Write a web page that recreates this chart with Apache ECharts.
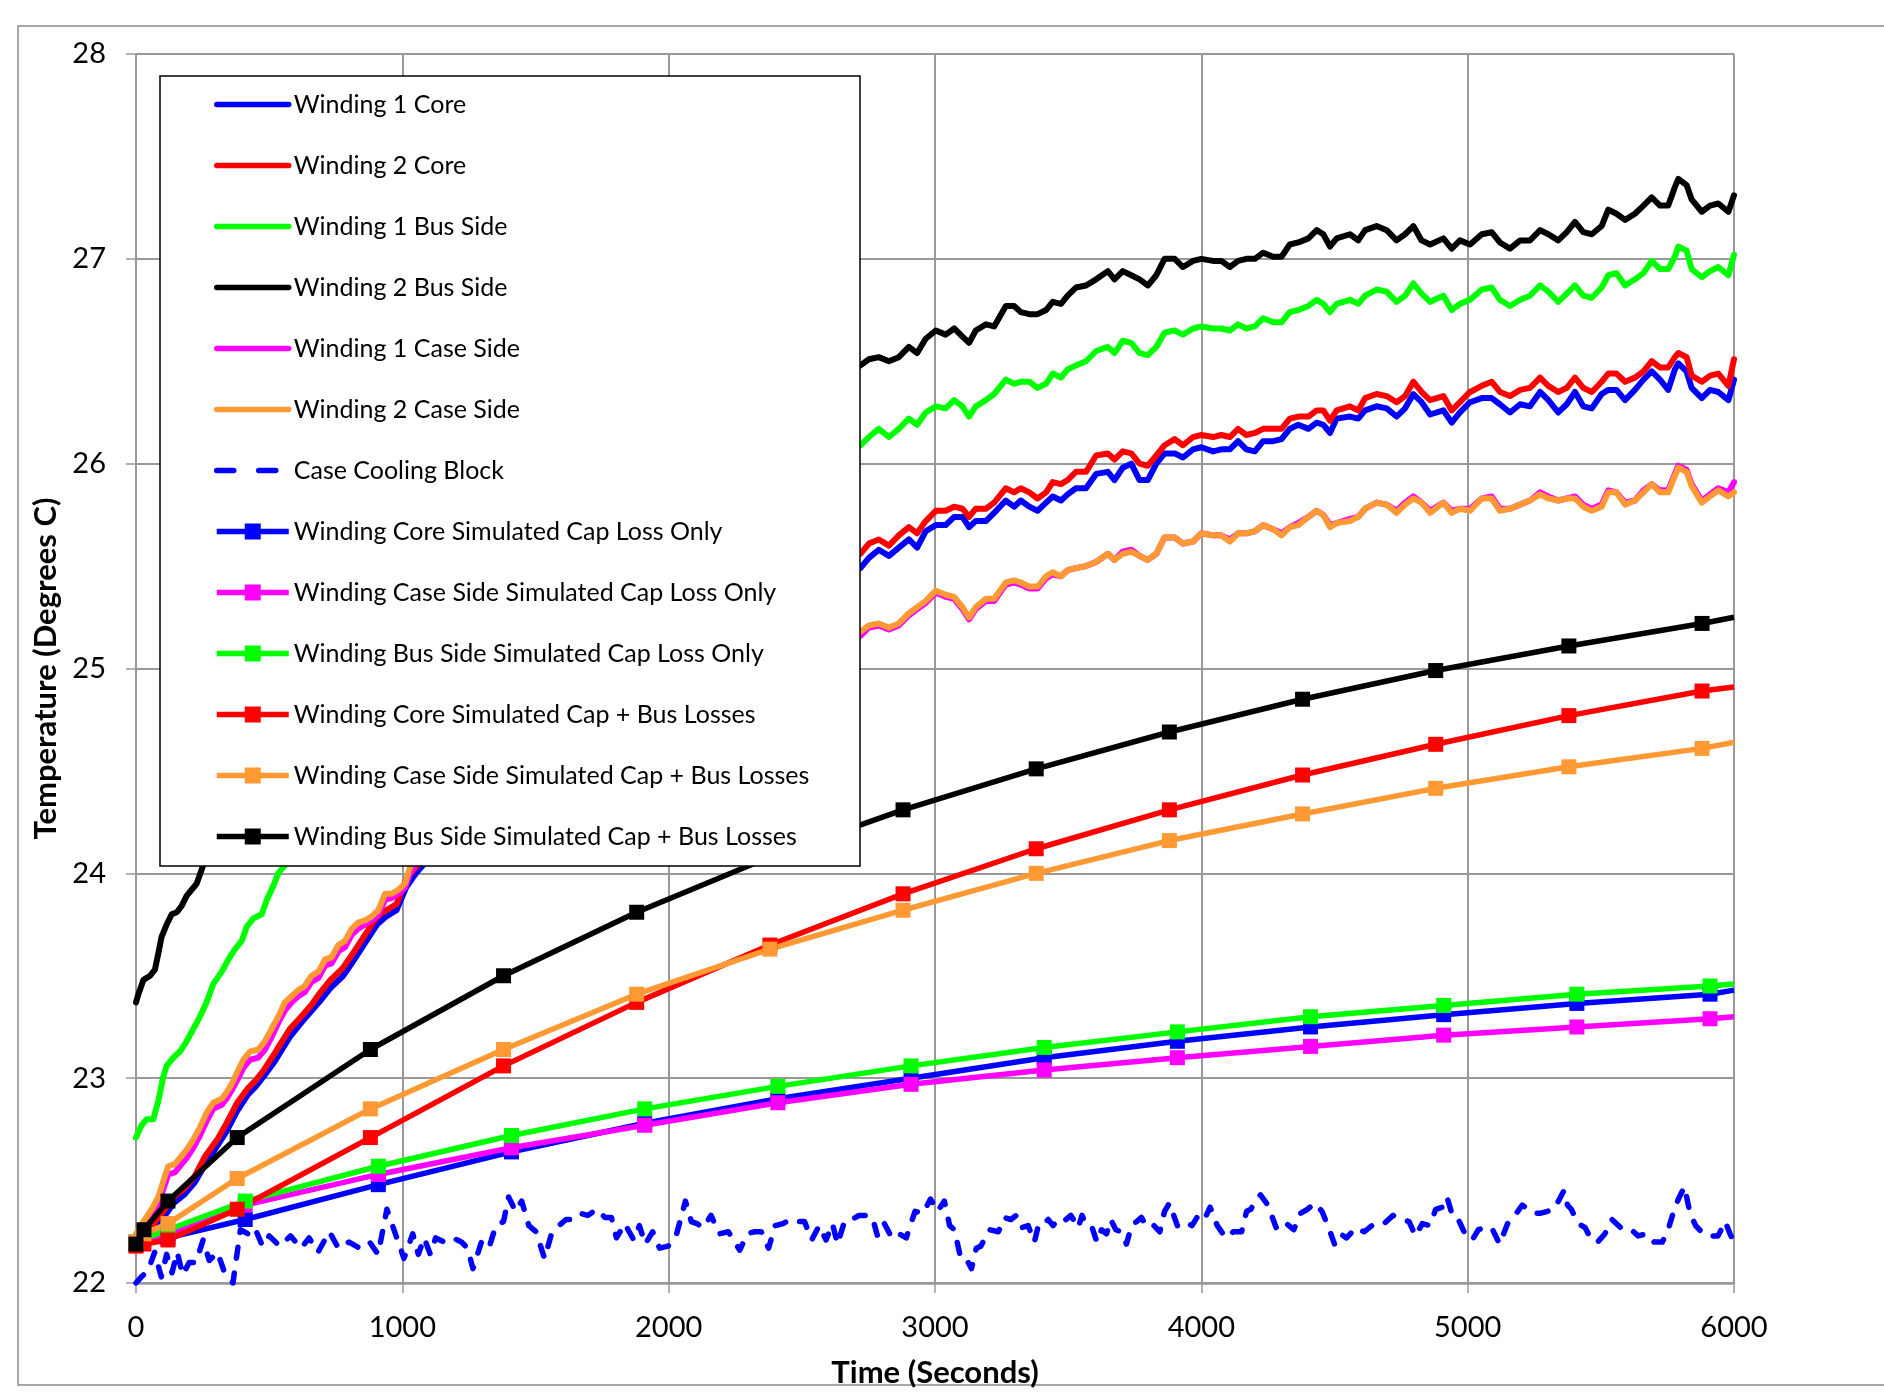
<!DOCTYPE html>
<html><head><meta charset="utf-8">
<script src="https://cdn.jsdelivr.net/npm/echarts@6/dist/echarts.min.js"></script>
<style>html,body{margin:0;padding:0;background:#fff}#c{width:1884px;height:1395px}</style>
</head><body><div id="c"></div><script>
// ---------- Tick labels ----------
const xTicks = [0, 1000, 2000, 3000, 4000, 5000, 6000];
const yTicks = [22, 23, 24, 25, 26, 27, 28];

// ---------- Series names ----------
const names = ['Winding 1 Core','Winding 2 Core','Winding 1 Bus Side','Winding 2 Bus Side','Winding 1 Case Side','Winding 2 Case Side','Case Cooling Block','Winding Core Simulated Cap Loss Only','Winding Case Side Simulated Cap Loss Only','Winding Bus Side Simulated Cap Loss Only','Winding Core Simulated Cap + Bus Losses','Winding Case Side Simulated Cap + Bus Losses','Winding Bus Side Simulated Cap + Bus Losses'];

// ---------- Measured series: early part (times and values per series) ----------
const w2BusT_L = [0,9,28,53,71,84,96,115,134,153,171,190,209,228,247,259,400,600,800,1000,1300,1600,1900,2200,2500];
const w2Bus_L  = [23.37,23.41,23.48,23.50,23.53,23.61,23.69,23.75,23.80,23.81,23.84,23.89,23.92,23.95,24.02,24.07,24.33,24.66,24.95,25.2,25.52,25.8,26.03,26.22,26.38];
const w1BusT_L = [0,21,40,65,84,103,115,140,165,190,215,240,265,290,322,347,372,397,416,441,472,491,516,534,553,700,900,1100,1400,1700,2000,2300,2550];
const w1Bus_L  = [22.71,22.77,22.80,22.80,22.89,23.01,23.06,23.10,23.13,23.18,23.24,23.30,23.37,23.46,23.52,23.58,23.63,23.67,23.74,23.78,23.80,23.87,23.94,24.00,24.03,24.25,24.5,24.75,25.05,25.35,25.62,25.88,26.02];
const caseT_L  = [0,28,59,84,103,121,146,171,190,215,240,265,290,322,340,359,384,403,428,459,484,509,534,559,584,609,634,659,685,710,734,760,785,810,835,860,885,910,935,960,985,1010,1029,1048,1200,1400,1700,2000,2300,2550];
const w2Case_L = [22.24,22.30,22.36,22.42,22.50,22.57,22.58,22.62,22.65,22.70,22.76,22.83,22.88,22.90,22.93,22.97,23.04,23.09,23.13,23.14,23.18,23.24,23.30,23.37,23.40,23.43,23.45,23.50,23.52,23.58,23.59,23.65,23.67,23.73,23.76,23.77,23.79,23.82,23.90,23.90,23.92,23.95,24.03,24.07,24.25,24.45,24.65,24.85,25.0,25.12];
const w1Case_L = [22.22,22.28,22.33,22.38,22.46,22.53,22.54,22.58,22.61,22.66,22.72,22.79,22.85,22.87,22.90,22.94,23.00,23.05,23.09,23.10,23.14,23.20,23.27,23.33,23.37,23.40,23.42,23.47,23.49,23.55,23.56,23.62,23.64,23.70,23.73,23.75,23.77,23.80,23.87,23.88,23.90,23.93,24.00,24.04,24.22,24.42,24.63,24.83,24.99,25.11];
const coreT_L  = [0,30,60,90,120,141,180,220,260,305,340,380,420,450,480,520,577,620,660,687,730,778,820,860,905,940,978,1014,1051,1200,1400,1700,2000,2300,2550];
const w2Core_L = [22.21,22.22,22.28,22.33,22.38,22.42,22.46,22.52,22.62,22.70,22.78,22.88,22.95,22.99,23.04,23.12,23.24,23.30,23.36,23.41,23.48,23.54,23.62,23.70,23.79,23.82,23.85,23.97,24.03,24.25,24.5,24.8,25.05,25.3,25.48];
const w1Core_L = [22.19,22.20,22.25,22.30,22.35,22.39,22.43,22.49,22.58,22.67,22.74,22.84,22.92,22.96,23.01,23.08,23.20,23.27,23.33,23.37,23.44,23.50,23.58,23.66,23.75,23.79,23.82,23.93,24.00,24.22,24.47,24.77,25.0,25.25,25.42];

// ---------- Measured series: later part (shared times) ----------
const TR = [2720,2752,2789,2827,2864,2902,2933,2965,3003,3040,3072,3103,3128,3153,3191,3222,3266,3297,3322,3354,3385,3417,3442,3473,3498,3529,3567,3605,3649,3674,3705,3737,3768,3799,3831,3862,3900,3931,3969,4000,4044,4075,4107,4138,4169,4201,4232,4270,4301,4332,4364,
            4402,4433,4458,4483,4508,4558,4589,4615,4658,4696,4733,4765,4796,4827,4859,4909,4940,4971,5009,5053,5090,5121,5159,5197,5234,5272,5303,5340,5372,5403,5434,5466,5503,5528,5559,5591,5628,5660,5691,5722,5753,5778,5791,5822,5841,5879,5910,5941,5979,6000];
const w2Bus_R = [26.48,26.51,26.52,26.50,26.52,26.57,26.54,26.61,26.65,26.63,26.66,26.62,26.59,26.65,26.68,26.67,26.77,26.77,26.74,26.73,26.73,26.75,26.79,26.78,26.82,26.86,26.87,26.90,26.94,26.90,26.94,26.92,26.90,26.87,26.92,27.00,27.00,26.96,26.99,27.00,26.99,26.99,26.96,26.99,27.00,27.00,27.03,27.01,27.01,27.07,27.08,
            27.10,27.14,27.12,27.06,27.10,27.12,27.09,27.14,27.16,27.14,27.09,27.12,27.16,27.09,27.07,27.10,27.05,27.09,27.07,27.12,27.13,27.08,27.05,27.09,27.09,27.14,27.12,27.09,27.13,27.18,27.13,27.12,27.16,27.24,27.22,27.19,27.22,27.26,27.30,27.26,27.26,27.35,27.39,27.36,27.29,27.23,27.26,27.27,27.23,27.31];
const w1Bus_R = [26.09,26.13,26.17,26.13,26.17,26.22,26.19,26.25,26.28,26.27,26.31,26.28,26.23,26.28,26.31,26.34,26.41,26.39,26.40,26.40,26.37,26.39,26.44,26.42,26.46,26.48,26.50,26.55,26.57,26.54,26.60,26.59,26.54,26.53,26.57,26.64,26.65,26.63,26.66,26.67,26.66,26.66,26.65,26.68,26.66,26.67,26.71,26.69,26.69,26.74,26.75,
            26.77,26.80,26.78,26.74,26.78,26.80,26.78,26.82,26.85,26.84,26.79,26.82,26.88,26.83,26.79,26.82,26.75,26.78,26.80,26.85,26.86,26.80,26.77,26.80,26.82,26.87,26.84,26.79,26.83,26.87,26.82,26.81,26.86,26.92,26.93,26.87,26.90,26.93,26.99,26.95,26.95,27.01,27.06,27.04,26.95,26.91,26.94,26.96,26.92,27.02];
const w2Core_R = [25.56,25.61,25.63,25.60,25.65,25.69,25.66,25.72,25.77,25.77,25.79,25.78,25.74,25.78,25.78,25.81,25.88,25.86,25.88,25.86,25.83,25.86,25.91,25.90,25.92,25.96,25.96,26.04,26.05,26.02,26.06,26.05,26.00,25.99,26.04,26.09,26.12,26.09,26.13,26.14,26.13,26.14,26.13,26.17,26.14,26.15,26.17,26.17,26.17,26.22,26.23,
            26.23,26.26,26.26,26.21,26.26,26.28,26.26,26.32,26.34,26.33,26.30,26.33,26.40,26.35,26.31,26.33,26.26,26.30,26.35,26.38,26.40,26.35,26.33,26.36,26.37,26.42,26.38,26.35,26.37,26.42,26.37,26.35,26.40,26.44,26.44,26.40,26.42,26.45,26.50,26.47,26.47,26.52,26.54,26.52,26.43,26.40,26.43,26.44,26.38,26.51];
const w1Core_R = [25.49,25.54,25.58,25.55,25.59,25.63,25.59,25.67,25.70,25.70,25.74,25.74,25.69,25.72,25.72,25.76,25.82,25.79,25.82,25.79,25.77,25.81,25.84,25.82,25.85,25.88,25.88,25.95,25.96,25.92,25.98,26.00,25.92,25.92,26.00,26.05,26.05,26.03,26.07,26.08,26.06,26.07,26.07,26.11,26.07,26.06,26.11,26.11,26.12,26.17,26.19,
            26.17,26.20,26.19,26.15,26.22,26.23,26.22,26.26,26.28,26.27,26.23,26.27,26.34,26.30,26.24,26.26,26.20,26.25,26.30,26.32,26.32,26.29,26.25,26.29,26.28,26.35,26.31,26.25,26.29,26.35,26.28,26.27,26.34,26.36,26.36,26.31,26.36,26.41,26.45,26.41,26.36,26.46,26.49,26.45,26.37,26.32,26.36,26.35,26.31,26.41];
const w2Case_R = [25.18,25.21,25.22,25.20,25.22,25.27,25.30,25.33,25.38,25.36,25.35,25.30,25.25,25.30,25.34,25.34,25.42,25.43,25.42,25.40,25.40,25.45,25.47,25.45,25.48,25.49,25.50,25.52,25.56,25.53,25.56,25.57,25.55,25.53,25.56,25.64,25.64,25.61,25.62,25.66,25.65,25.65,25.62,25.66,25.66,25.67,25.70,25.68,25.65,25.69,25.70,
            25.74,25.77,25.75,25.69,25.71,25.72,25.74,25.78,25.81,25.80,25.76,25.80,25.83,25.81,25.76,25.81,25.76,25.78,25.77,25.83,25.83,25.77,25.78,25.80,25.82,25.85,25.83,25.82,25.83,25.83,25.79,25.77,25.79,25.86,25.86,25.80,25.82,25.86,25.90,25.86,25.86,25.94,25.98,25.96,25.89,25.81,25.84,25.87,25.84,25.86];
const w1Case_R = [25.16,25.20,25.21,25.19,25.21,25.26,25.29,25.32,25.37,25.35,25.34,25.29,25.24,25.29,25.33,25.33,25.41,25.42,25.41,25.39,25.39,25.44,25.46,25.45,25.48,25.49,25.50,25.52,25.56,25.53,25.57,25.58,25.55,25.53,25.56,25.64,25.64,25.61,25.62,25.66,25.65,25.65,25.63,25.66,25.66,25.67,25.70,25.68,25.66,25.69,25.71,
            25.74,25.77,25.75,25.70,25.71,25.73,25.74,25.78,25.81,25.80,25.77,25.81,25.84,25.81,25.77,25.81,25.77,25.78,25.78,25.83,25.84,25.78,25.78,25.80,25.82,25.86,25.84,25.82,25.83,25.84,25.80,25.78,25.80,25.87,25.86,25.81,25.82,25.87,25.90,25.87,25.87,25.95,25.99,25.97,25.90,25.82,25.85,25.88,25.86,25.91];

// ---------- Case cooling block ----------
const coolT = [0,20,45,70,95,115,135,155,175,200,225,252,275,306,330,364,392,420,446,475,500,540,580,620,650,683,726,760,800,840,877,909,942,974,1006,1039,1060,1082,1105,1125,1157,1190,1222,1245,1265,1297,1325,1351,1380,1399,1425,1448,1475,1502,1534,1560,1588,1615,1642,1670,1696,1730,1761,1785,1804,1835,1869,1890,1912,1940,1966,1998,2030,2063,2085,2106,2130,2159,2190,2224,2267,2295,2321,2348,2375,2400,2429,2456,2483,2510,2537,2565,2591,2615,2634,2660,2688,2715,2741,2765,2784,2810,2838,2865,2892,2925,2955,2983,3010,3035,3055,3073,3095,3113,3137,3155,3172,3205,3238,3260,3285,3305,3325,3350,3373,3390,3408,3425,3443,3462,3483,3510,3538,3552,3568,3590,3608,3625,3644,3660,3679,3700,3719,3738,3757,3775,3792,3815,3844,3862,3880,3910,3939,3965,3993,4015,4033,4060,4092,4120,4151,4170,4186,4205,4222,4250,4281,4310,4347,4372,4399,4425,4453,4478,4500,4522,4545,4580,4611,4650,4686,4720,4752,4780,4804,4830,4858,4880,4905,4922,4945,4965,4990,5017,5040,5064,5090,5120,5150,5177,5205,5229,5250,5271,5300,5323,5345,5361,5375,5389,5415,5441,5465,5488,5515,5542,5575,5606,5640,5672,5700,5731,5755,5778,5795,5814,5835,5856,5885,5915,5940,5967,5985,6000];
const coolV = [22.0,22.03,22.06,22.15,22.03,22.14,22.05,22.15,22.04,22.1,22.1,22.21,22.11,22.15,22.06,22.0,22.26,22.24,22.27,22.18,22.23,22.18,22.23,22.17,22.22,22.15,22.25,22.17,22.2,22.17,22.2,22.14,22.36,22.24,22.12,22.24,22.14,22.22,22.14,22.22,22.2,22.22,22.2,22.17,22.07,22.2,22.17,22.28,22.3,22.42,22.35,22.4,22.28,22.25,22.12,22.24,22.28,22.31,22.31,22.34,22.33,22.36,22.32,22.32,22.22,22.29,22.21,22.28,22.19,22.25,22.17,22.18,22.24,22.4,22.3,22.29,22.27,22.33,22.24,22.25,22.16,22.24,22.25,22.25,22.17,22.28,22.29,22.31,22.3,22.3,22.21,22.28,22.21,22.29,22.19,22.3,22.31,22.33,22.33,22.32,22.23,22.29,22.22,22.24,22.22,22.35,22.34,22.41,22.35,22.4,22.28,22.26,22.13,22.13,22.07,22.17,22.18,22.26,22.25,22.32,22.31,22.33,22.27,22.28,22.2,22.29,22.29,22.31,22.28,22.31,22.3,22.33,22.27,22.33,22.28,22.27,22.2,22.26,22.24,22.31,22.26,22.25,22.19,22.28,22.3,22.32,22.28,22.29,22.25,22.35,22.39,22.28,22.3,22.28,22.34,22.32,22.37,22.28,22.22,22.25,22.25,22.35,22.36,22.41,22.43,22.38,22.27,22.3,22.26,22.34,22.36,22.39,22.35,22.27,22.19,22.24,22.22,22.27,22.25,22.29,22.29,22.33,22.31,22.3,22.23,22.29,22.28,22.36,22.37,22.42,22.32,22.31,22.24,22.21,22.26,22.27,22.27,22.19,22.29,22.33,22.38,22.36,22.34,22.34,22.35,22.36,22.41,22.45,22.38,22.36,22.29,22.27,22.21,22.2,22.24,22.31,22.27,22.27,22.23,22.24,22.2,22.2,22.27,22.37,22.42,22.47,22.34,22.28,22.24,22.23,22.23,22.3,22.24,22.2];

// ---------- Simulated series ----------
const simBusT  = [0,30,120,380,880,1380,1880,2380,2880,3380,3880,4380,4880,5380,5880,6000];
const simBusLosses_Bus  = [22.19,22.26,22.40,22.71,23.14,23.50,23.81,24.08,24.31,24.51,24.69,24.85,24.99,25.11,25.22,25.25];
const simBusLosses_Core = [22.18,22.19,22.21,22.36,22.71,23.06,23.37,23.65,23.90,24.12,24.31,24.48,24.63,24.77,24.89,24.91];
const simBusLosses_Case = [22.20,22.24,22.29,22.51,22.85,23.14,23.41,23.63,23.82,24.00,24.16,24.29,24.415,24.52,24.61,24.64];
const simCapT  = [0,120,410,910,1410,1910,2410,2910,3410,3910,4410,4910,5410,5910,6000];
const simCapOnly_Core = [22.19,22.22,22.31,22.48,22.64,22.78,22.90,23.00,23.10,23.18,23.25,23.31,23.365,23.41,23.43];
const simCapOnly_Case = [22.20,22.24,22.38,22.53,22.66,22.77,22.88,22.97,23.04,23.10,23.155,23.21,23.25,23.29,23.30];
const simCapOnly_Bus  = [22.20,22.26,22.40,22.57,22.72,22.85,22.96,23.06,23.15,23.226,23.30,23.355,23.41,23.45,23.46];

// ---------- Build ----------
const pair = (ts, vs) => ts.map((t, i) => [t, vs[i]]);
const FONT = 'Lato';
const LW = 6;
function measured(name, color, tl, vl, vr) {
  return { name, type: 'line', data: pair(tl, vl).concat(pair(TR, vr)), symbol: 'none', showSymbol: false,
    lineStyle: { color: color, width: LW, cap: 'round', join: 'round' }, itemStyle: { color: color }, emphasis: { disabled: true } };
}
function simulated(name, color, ts, vs) {
  const d = pair(ts, vs).map((p, i) => i === ts.length - 1 ? { value: p, symbol: 'none' } : p);
  return { name, type: 'line', data: d, symbol: 'rect', symbolSize: 15, showSymbol: true,
    lineStyle: { color: color, width: LW - 0.5, join: 'round' }, itemStyle: { color: color }, emphasis: { disabled: true } };
}
const series = [
  measured(names[0], '#0000FF', coreT_L, w1Core_L, w1Core_R),
  measured(names[1], '#FF0000', coreT_L, w2Core_L, w2Core_R),
  measured(names[2], '#00FF00', w1BusT_L, w1Bus_L, w1Bus_R),
  measured(names[3], '#000000', w2BusT_L, w2Bus_L, w2Bus_R),
  measured(names[4], '#FF00FF', caseT_L, w1Case_L, w1Case_R),
  measured(names[5], '#FF9933', caseT_L, w2Case_L, w2Case_R),
  { name: names[6], type: 'line', data: pair(coolT, coolV), symbol: 'none', showSymbol: false,
    lineStyle: { color: '#0000FF', width: 5.5, type: [11, 15], cap: 'round', join: 'round' }, itemStyle: { color: '#0000FF' }, emphasis: { disabled: true } },
  simulated(names[7], '#0000FF', simCapT, simCapOnly_Core),
  simulated(names[8], '#FF00FF', simCapT, simCapOnly_Case),
  simulated(names[9], '#00FF00', simCapT, simCapOnly_Bus),
  simulated(names[10], '#FF0000', simBusT, simBusLosses_Core),
  simulated(names[11], '#FF9933', simBusT, simBusLosses_Case),
  simulated(names[12], '#000000', simBusT, simBusLosses_Bus)
];

const legendData = names.map((n, i) => {
  if (i < 6) return { name: n, itemStyle: { opacity: 0 }, lineStyle: { width: 5.5, cap: 'round' } };
  if (i === 6) return { name: n, itemStyle: { opacity: 0 }, lineStyle: { width: 5.5, type: [17, 25], cap: 'round' } };
  return { name: n, lineStyle: { width: 5.5 } };
});

const chart = echarts.init(document.getElementById('c'), null, { renderer: 'canvas' });
const GRID = '#999999';
chart.setOption({
  animation: false,
  backgroundColor: '#ffffff',
  grid: { left: 136, right: 150, top: 54, bottom: 112, containLabel: false },
  xAxis: {
    type: 'value', min: xTicks[0], max: xTicks[xTicks.length - 1], interval: 1000,
    name: 'Time (Seconds)', nameLocation: 'middle', nameGap: 74,
    nameTextStyle: { fontFamily: FONT, fontWeight: 'bold', fontSize: 31, color: '#000' },
    axisLine: { show: true, lineStyle: { color: GRID, width: 2.5 } },
    axisTick: { show: true, length: 10, lineStyle: { color: GRID, width: 1.5 } },
    axisLabel: { fontFamily: FONT, fontSize: 29, color: '#000', margin: 30, formatter: v => String(v) },
    splitLine: { show: true, lineStyle: { color: GRID, width: 2 } }
  },
  yAxis: {
    type: 'value', min: yTicks[0], max: yTicks[yTicks.length - 1], interval: 1,
    name: 'Temperature (Degrees C)', nameLocation: 'middle', nameGap: 72, nameRotate: 90,
    nameTextStyle: { fontFamily: FONT, fontWeight: 'bold', fontSize: 31, color: '#000' },
    axisLine: { show: true, lineStyle: { color: GRID, width: 1.5 } },
    axisTick: { show: true, length: 10, lineStyle: { color: GRID, width: 1.5 } },
    axisLabel: { fontFamily: FONT, fontSize: 29, color: '#000', margin: 30, formatter: v => String(v) },
    splitLine: { show: true, lineStyle: { color: GRID, width: 2 } }
  },
  legend: {
    orient: 'vertical', left: 160, top: 76, padding: [16, 10, 10, 54],
    itemWidth: 72, itemHeight: 20, itemGap: 36, selectedMode: false, z: 10,
    textStyle: { fontFamily: FONT, fontSize: 25, color: '#000' },
    data: legendData
  },
  graphic: [
    { type: 'rect', silent: true, z: 5, shape: { x: 160, y: 76, width: 700, height: 790 },
      style: { fill: '#ffffff', stroke: '#000000', lineWidth: 1.5 } },
    { type: 'rect', silent: true, z: 0, shape: { x: 18, y: 26, width: 1900, height: 1359 },
      style: { fill: 'none', stroke: '#8c8c8c', lineWidth: 1.5 } }
  ],
  series
});
</script></body></html>
